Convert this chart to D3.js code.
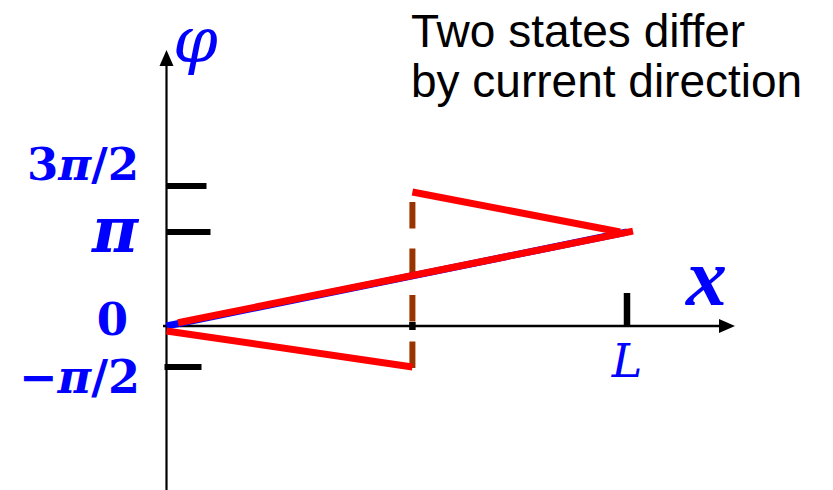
<!DOCTYPE html>
<html>
<head>
<meta charset="utf-8">
<script src="https://cdn.jsdelivr.net/npm/d3@7/dist/d3.min.js"></script>
<style>
  html, body { margin: 0; padding: 0; background: #fff; }
  svg { display: block; }
</style>
</head>
<body>
<svg id="chart" width="833" height="490"></svg>
<script>
// ---- data (x in units of L, phi in units of pi) ----
const yTickValues = [-0.5, 0, 1, 1.5];
const yTickLabels = ["−π/2", "0", "π", "3π/2"];
const xTickValues = [0.534, 1];
const xTickLabels = ["", "L"];

const straightX = [0, 1];
const straightPhi = [0, 1];
const mainRedX = [0.025, 1.013];
const mainRedPhi = [0.035, 1.01];
const lowerX = [0, 0.534];
const lowerPhi = [-0.06, -0.5];
const upperX = [0.534, 0.985];
const upperPhi = [1.435, 1.0];
const jumpX = [0.534, 0.534];
const jumpPhi = [1.326, -0.512];

const noteLines = ["Two states differ", "by current direction"];

// ---- drawing ----
const svg = d3.select("#chart");
const x = d3.scaleLinear().domain([0, 1]).range([166.5, 627]);
const y = d3.scaleLinear().domain([-0.5, 0, 1, 1.5]).range([367, 326, 232, 186]);
const line = d3.line().x(d => x(d[0])).y(d => y(d[1]));
const pts = (xs, ys) => xs.map((v, i) => [v, ys[i]]);

const blue = "#0000ff";

// axes
svg.append("line").attr("x1", x(0)).attr("x2", x(0)).attr("y1", 490).attr("y2", 62)
  .attr("stroke", "#000").attr("stroke-width", 2.2);
svg.append("path").attr("d", `M${x(0)},50 L${x(0)-7},66 L${x(0)+7},66 Z`).attr("fill", "#000");
svg.append("line").attr("x1", 163).attr("x2", 722).attr("y1", y(0)).attr("y2", y(0))
  .attr("stroke", "#000").attr("stroke-width", 2.5);
svg.append("path").attr("d", `M735,${y(0)} L719,${y(0)-7} L719,${y(0)+7} Z`).attr("fill", "#000");

// y ticks (black bars)
const yTickLen = {"-0.5": [-2, 35], "1": [0, 44], "1.5": [0, 40]};
yTickValues.forEach(v => {
  const l = yTickLen[String(v)];
  if (!l) return;
  svg.append("line").attr("x1", x(0) + l[0]).attr("x2", x(0) + l[1])
    .attr("y1", y(v)).attr("y2", y(v)).attr("stroke", "#000").attr("stroke-width", 6);
});

// x ticks
xTickValues.forEach((v, i) => {
  if (i === 0) {
    svg.append("line").attr("x1", x(v)).attr("x2", x(v)).attr("y1", y(0) - 4).attr("y2", y(0) + 4)
      .attr("stroke", "#000").attr("stroke-width", 6.5);
  } else {
    svg.append("line").attr("x1", x(v)).attr("x2", x(v)).attr("y1", 293).attr("y2", y(0))
      .attr("stroke", "#000").attr("stroke-width", 6.5);
  }
});

// dashed jump
svg.append("path").attr("d", line(pts(jumpX, jumpPhi))).attr("fill", "none")
  .attr("stroke", "#993300").attr("stroke-width", 6).attr("stroke-dasharray", "26.5,20");

// blue straight line below red
svg.append("path").attr("d", line(pts(straightX, straightPhi))).attr("fill", "none")
  .attr("stroke", blue).attr("stroke-width", 7);
// red lines
[[mainRedX, mainRedPhi], [lowerX, lowerPhi], [upperX, upperPhi]].forEach(([xs, ys]) => {
  svg.append("path").attr("d", line(pts(xs, ys))).attr("fill", "none")
    .attr("stroke", "#ff0000").attr("stroke-width", 7);
});

// y tick labels
const labelFont = "'DejaVu Serif', serif";
const ylab = svg.append("g").attr("fill", blue).attr("font-family", labelFont).attr("font-weight", "bold");
const yLabelPos = {
  "−π/2": {x: 140, y: 393, size: 46},
  "0": {x: 128, y: 335, size: 45},
  "π": {x: 138, y: 252, size: 63},
  "3π/2": {x: 139, y: 180, size: 45}
};
yTickLabels.forEach(t => {
  const p = yLabelPos[t];
  const txt = ylab.append("text").attr("x", p.x).attr("y", p.y).attr("text-anchor", "end")
    .attr("font-size", p.size);
  t.split("").forEach(ch => {
    const ts = txt.append("tspan").text(ch);
    if (ch === "π") ts.attr("font-style", "italic");
  });
});

// x tick label L
svg.append("text").attr("x", 627).attr("y", 377).attr("text-anchor", "middle")
  .attr("fill", blue).attr("font-family", labelFont).attr("font-style", "italic")
  .attr("font-size", 46).text(xTickLabels[1]);

// axis titles
svg.append("text").attr("x", 173).attr("y", 62).attr("fill", blue)
  .attr("font-family", labelFont).attr("font-style", "italic").attr("font-size", 64).text("φ");
svg.append("text").attr("x", 686).attr("y", 305).attr("fill", blue)
  .attr("font-family", "'Liberation Serif', serif").attr("font-style", "italic").attr("font-weight", "bold")
  .attr("font-size", 82).text("x");

// note
const note = svg.append("text").attr("font-family", "'Liberation Sans', Arial, sans-serif")
  .attr("font-size", 46).attr("fill", "#000");
noteLines.forEach((t, i) => {
  note.append("tspan").attr("x", 411).attr("y", 47 + i * 50).text(t);
});
</script>
</body>
</html>
